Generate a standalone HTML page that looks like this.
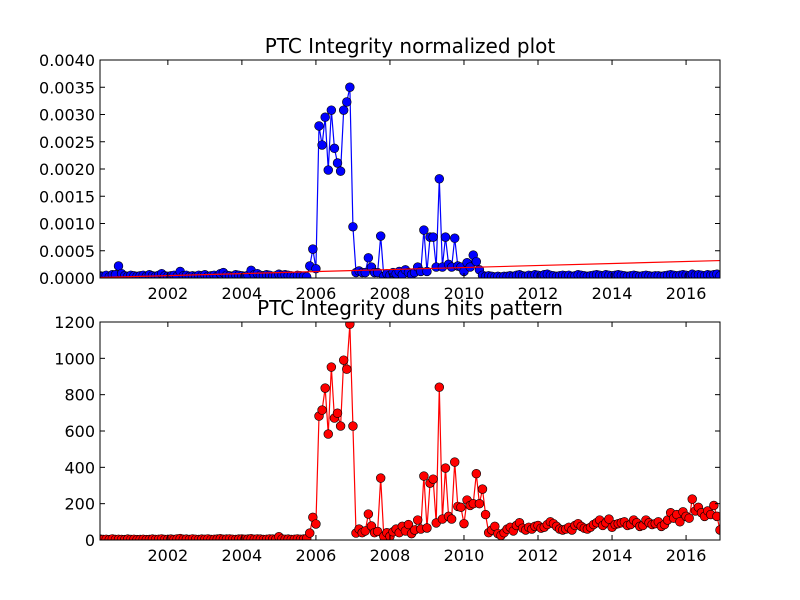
<!DOCTYPE html>
<html><head><meta charset="utf-8"><style>
body{margin:0;background:#fff;}
svg{display:block;font-family:"DejaVu Sans","Liberation Sans",sans-serif;}
</style></head><body>
<svg id="c" width="800" height="600"></svg>
<script>
const startYear = 2000 + 2/12;
const redHits = [5,3,4,2,6,3,4,3,2,5,3,4,2,3,4,2,3,5,3,4,6,3,4,5,3,6,8,4,5,3,6,4,3,5,4,6,3,4,5,7,4,5,6,4,3,5,6,4,5,7,4,6,5,3,4,6,5,4,18,6,4,5,3,4,6,4,5,8,
38,125,88,682,715,836,583,952,671,698,627,990,940,1188,627,38,60,40,50,143,77,40,47,341,20,40,
20,45,60,40,75,50,85,35,55,110,60,
352,66,313,335,94,841,115,396,130,115,429,185,180,90,220,190,200,365,200,280,140,40,55,75,35,25,40,
60,70,50,80,95,65,55,70,60,75,80,65,70,85,100,90,75,60,55,60,70,55,80,90,75,65,60,70,85,95,110,80,95,115,70,85,90,95,100,80,85,110,95,75,80,110,95,85,90,100,75,85,110,150,120,140,100,155,130,120,225,160,180,150,130,160,140,190,130,55];
const normE5 = [4,3,5,2,6,6,22,8,4,3,5,4,3,4,5,3,6,4,3,5,8,4,3,4,5,3,12,4,5,3,4,3,5,4,6,3,4,5,3,8,10,5,4,3,6,5,4,3,5,14,6,8,5,4,6,5,3,4,7,5,6,5,4,3,5,4,3,2,
22,53,17,279,244,295,198,308,238,211,196,308,323,350,94,10,13,10,10,37,20,10,10,77,3,8,
5,10,8,12,6,15,10,6,10,20,12,
88,12,75,75,20,182,20,75,25,20,73,22,20,12,28,20,42,30,15,5,3,4,3,2,3,2,3,
3,4,3,5,6,4,3,5,4,6,5,4,6,7,5,4,3,4,5,4,5,3,4,6,5,4,3,4,5,6,5,4,6,5,4,5,6,5,4,3,4,5,4,3,4,5,4,3,4,4,3,4,5,6,5,4,5,6,5,4,7,5,6,5,4,6,5,6,7,4];
const fitValues = [0.00001, 0.00032];
const xTicks = [2002,2004,2006,2008,2010,2012,2014,2016];
const topYTicks = [0,0.0005,0.001,0.0015,0.002,0.0025,0.003,0.0035,0.004];
const botYTicks = [0,200,400,600,800,1000,1200];

const NS="http://www.w3.org/2000/svg";
const svg=document.getElementById('c');
function mk(t,a,p){const e=document.createElementNS(NS,t);for(const k in a)e.setAttribute(k,a[k]);(p||svg).appendChild(e);return e;}
const n=redHits.length;
const dates=redHits.map((_,i)=>startYear+i/12);
const x0=dates[0], x1=dates[n-1];
const L=100,R=720;
function xs(d){return L+(d-x0)/(x1-x0)*(R-L);}

function panel(top,bot,ymax,ticks,fmt,title,vals,color,name){
  const ys=v=>bot-(v/ymax)*(bot-top);
  const g=mk('g',{});
  
  
  const t=mk('text',{x:410,y:top-7,'text-anchor':'middle','font-size':20},g);
  t.textContent=title;
  
  
  const cp=mk('clipPath',{id:'cp'+name},g);
  mk('rect',{x:L,y:top,width:R-L,height:bot-top},cp);
  const pts=vals.map((v,i)=>xs(dates[i])+','+ys(v)).join(' ');
  const pl=mk('polyline',{points:pts,fill:'none',stroke:color,'stroke-width':1.2,'clip-path':'url(#cp'+name+')'},g);
  
  
  vals.forEach((v,i)=>{
    const c=mk('circle',{cx:xs(dates[i]),cy:ys(v),r:4.4,fill:color,stroke:'#000','stroke-width':0.6,'clip-path':'url(#cp'+name+')'},g);
    
    
  });
  if(name==='normalized'){
    const f=mk('line',{x1:xs(x0),y1:ys(fitValues[0]),x2:xs(x1),y2:ys(fitValues[1]),stroke:'#f00','stroke-width':1.2,'clip-path':'url(#cp'+name+')'},g);
    
    
  }
  const fr=mk('rect',{x:L,y:top,width:R-L,height:bot-top,fill:'none',stroke:'#000','stroke-width':1},g);
  
  
  xTicks.forEach(d=>{
    const x=xs(d);
    mk('line',{x1:x,y1:bot,x2:x,y2:bot-5,stroke:'#000'},g);
    mk('line',{x1:x,y1:top,x2:x,y2:top+5,stroke:'#000'},g);
    const tl=mk('text',{x:x,y:bot+21,'text-anchor':'middle','font-size':16},g);
    tl.textContent=d;
    
    
  });
  ticks.forEach(v=>{
    const y=ys(v);
    mk('line',{x1:L,y1:y,x2:L+5,y2:y,stroke:'#000'},g);
    mk('line',{x1:R,y1:y,x2:R-5,y2:y,stroke:'#000'},g);
    const tl=mk('text',{x:95,y:y+6,'text-anchor':'end','font-size':16},g);
    tl.textContent=fmt(v);
    
    
  });
}
panel(60,278,0.004,topYTicks,v=>v.toFixed(4),'PTC Integrity normalized plot',normE5.map(v=>v*1e-5),'#0000ff','normalized');
panel(322,540,1200,botYTicks,v=>String(v),'PTC Integrity duns hits pattern',redHits,'#ff0000','hits');
</script>
</body></html>
